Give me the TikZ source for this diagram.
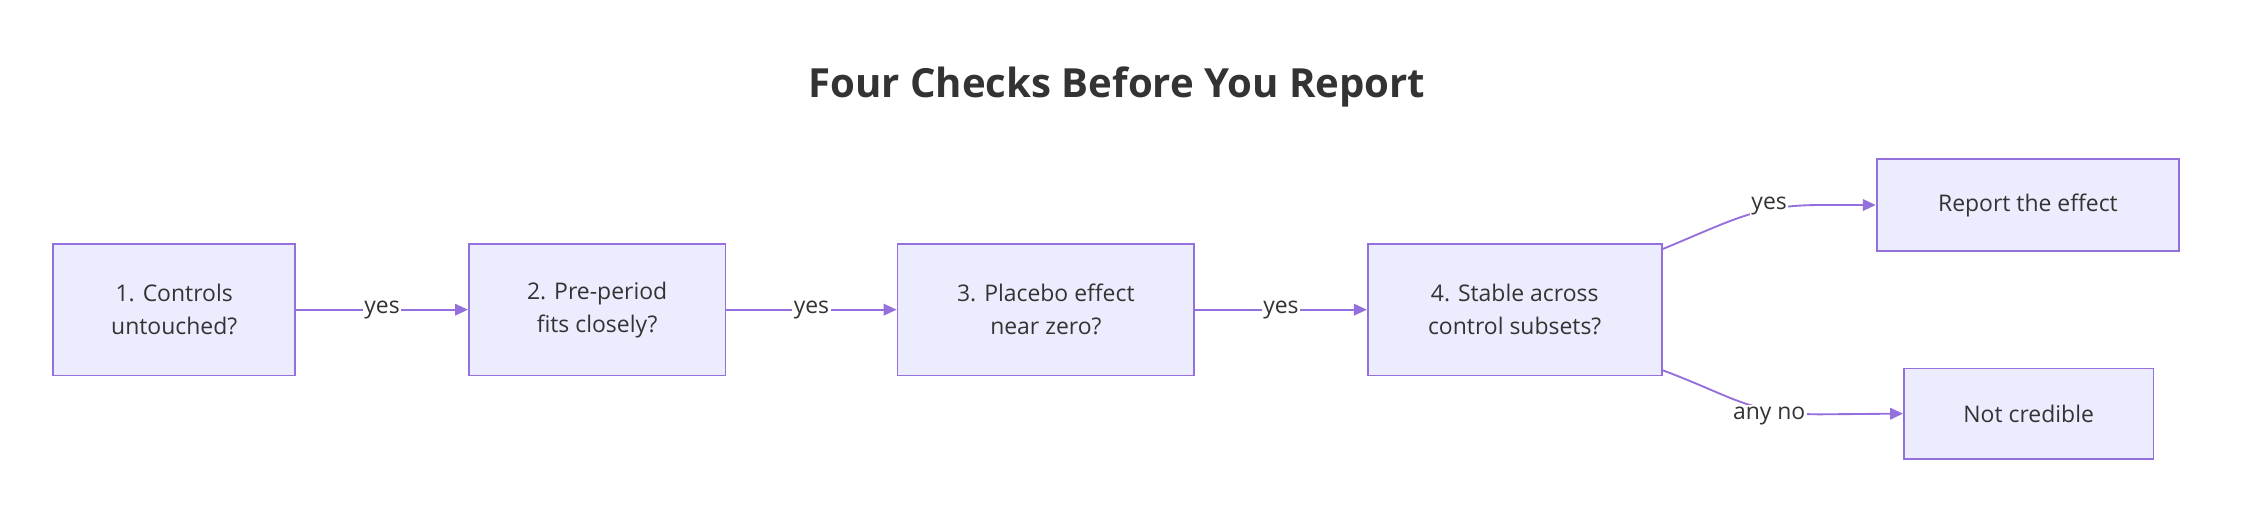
\documentclass[tikz,border=0pt]{standalone}
\usepackage{fontspec}
\setmainfont{Open Sans}
\usetikzlibrary{arrows.meta}
\definecolor{nfill}{HTML}{ECECFF}
\definecolor{nstroke}{HTML}{9370DB}
\definecolor{txt}{HTML}{333333}
\begin{document}
\begin{tikzpicture}[x=1pt,y=-1pt,
  box/.style={draw=nstroke,fill=nfill,line width=1.2pt,align=center,text=txt,font=\fontsize{16}{23}\selectfont,inner sep=0pt},
  edge/.style={draw=nstroke,line width=1.3pt,-{Triangle[length=9pt,width=8pt]}},
  lbl/.style={fill=white,text=txt,font=\fontsize{16}{19}\selectfont,inner sep=1pt}]
\useasboundingbox (0,0) rectangle (1568,361);
\node[text=txt,font=\bfseries\fontsize{28}{32}\selectfont] (title) at (779,61) {Four Checks Before You Report};
\node[box,minimum width=169pt,minimum height=92pt] (a) at (121.5,216) {1. Controls\\untouched?};
\node[box,minimum width=179pt,minimum height=92pt] (b) at (416.5,216) {2. Pre-period\\fits closely?};
\node[box,minimum width=207pt,minimum height=92pt] (c) at (729.5,216) {3. Placebo effect\\near zero?};
\node[box,minimum width=205pt,minimum height=92pt] (d) at (1056.5,216) {4. Stable across\\control subsets?};
\node[box,minimum width=211pt,minimum height=64pt] (r) at (1414.5,143) {Report the effect};
\node[box,minimum width=174pt,minimum height=63pt] (n) at (1415,288.5) {Not credible};
\draw[edge] (a) -- node[lbl]{yes} (b);
\draw[edge] (b) -- node[lbl]{yes} (c);
\draw[edge] (c) -- node[lbl]{yes} (d);
\coordinate (d1) at (1159,174);
\coordinate (d2) at (1159,258);
\draw[edge] (d1) .. controls (1210,153) and (1225,143) .. (1270,143) -- (r.west);
\node[lbl] (ly) at (1234,144) {yes};
\draw[edge] (d2) .. controls (1210,277) and (1220,289) .. (1270,289) -- (n.west);
\node[lbl] (ln) at (1234,290) {any no};
\end{tikzpicture}
\end{document}
